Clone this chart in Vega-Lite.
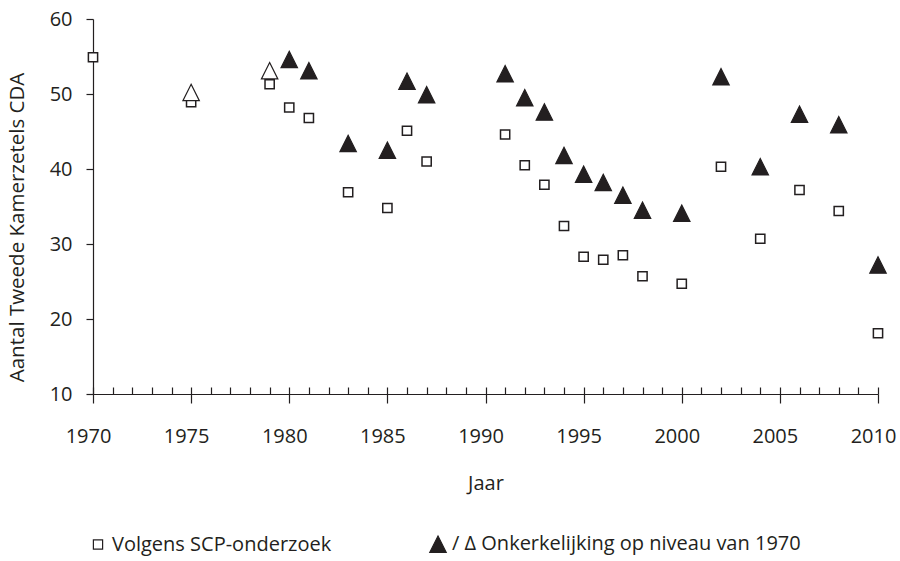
{
  "$schema": "https://vega.github.io/schema/vega-lite/v6.json",
  "width": 785,
  "height": 375,
  "autosize": {"type": "none"},
  "padding": {"left": 93, "top": 19, "right": 22, "bottom": 167},
  "background": "white",
  "config": {
    "font": "Open Sans",
    "view": {"stroke": null},
    "axis": {
      "domainColor": "#231f20",
      "tickColor": "#231f20",
      "labelColor": "#231f20",
      "titleColor": "#231f20",
      "domainWidth": 1.2,
      "tickWidth": 1.2,
      "grid": false,
      "labelFontSize": 20,
      "titleFontSize": 20,
      "titleFontWeight": "normal"
    },
    "legend": {
      "labelFontSize": 20,
      "labelColor": "#231f20",
      "labelLimit": 500,
      "symbolStrokeWidth": 1.2
    }
  },
  "data": {
    "values": [
      {"jaar": 1970, "zetels": 54.9, "reeks": "Volgens SCP-onderzoek", "type": "gemeten"},
      {"jaar": 1975, "zetels": 48.9, "reeks": "Volgens SCP-onderzoek", "type": "gemeten"},
      {"jaar": 1979, "zetels": 51.3, "reeks": "Volgens SCP-onderzoek", "type": "gemeten"},
      {"jaar": 1980, "zetels": 48.2, "reeks": "Volgens SCP-onderzoek", "type": "gemeten"},
      {"jaar": 1981, "zetels": 46.8, "reeks": "Volgens SCP-onderzoek", "type": "gemeten"},
      {"jaar": 1983, "zetels": 36.9, "reeks": "Volgens SCP-onderzoek", "type": "gemeten"},
      {"jaar": 1985, "zetels": 34.8, "reeks": "Volgens SCP-onderzoek", "type": "gemeten"},
      {"jaar": 1986, "zetels": 45.1, "reeks": "Volgens SCP-onderzoek", "type": "gemeten"},
      {"jaar": 1987, "zetels": 41.0, "reeks": "Volgens SCP-onderzoek", "type": "gemeten"},
      {"jaar": 1991, "zetels": 44.6, "reeks": "Volgens SCP-onderzoek", "type": "gemeten"},
      {"jaar": 1992, "zetels": 40.5, "reeks": "Volgens SCP-onderzoek", "type": "gemeten"},
      {"jaar": 1993, "zetels": 37.9, "reeks": "Volgens SCP-onderzoek", "type": "gemeten"},
      {"jaar": 1994, "zetels": 32.4, "reeks": "Volgens SCP-onderzoek", "type": "gemeten"},
      {"jaar": 1995, "zetels": 28.3, "reeks": "Volgens SCP-onderzoek", "type": "gemeten"},
      {"jaar": 1996, "zetels": 27.9, "reeks": "Volgens SCP-onderzoek", "type": "gemeten"},
      {"jaar": 1997, "zetels": 28.5, "reeks": "Volgens SCP-onderzoek", "type": "gemeten"},
      {"jaar": 1998, "zetels": 25.7, "reeks": "Volgens SCP-onderzoek", "type": "gemeten"},
      {"jaar": 2000, "zetels": 24.7, "reeks": "Volgens SCP-onderzoek", "type": "gemeten"},
      {"jaar": 2002, "zetels": 40.3, "reeks": "Volgens SCP-onderzoek", "type": "gemeten"},
      {"jaar": 2004, "zetels": 30.7, "reeks": "Volgens SCP-onderzoek", "type": "gemeten"},
      {"jaar": 2006, "zetels": 37.2, "reeks": "Volgens SCP-onderzoek", "type": "gemeten"},
      {"jaar": 2008, "zetels": 34.4, "reeks": "Volgens SCP-onderzoek", "type": "gemeten"},
      {"jaar": 2010, "zetels": 18.1, "reeks": "Volgens SCP-onderzoek", "type": "gemeten"},
      {"jaar": 1975, "zetels": 50.2, "reeks": "Onkerkelijking op niveau van 1970", "type": "geschat"},
      {"jaar": 1979, "zetels": 53.1, "reeks": "Onkerkelijking op niveau van 1970", "type": "geschat"},
      {"jaar": 1980, "zetels": 54.6, "reeks": "Onkerkelijking op niveau van 1970", "type": "gemeten"},
      {"jaar": 1981, "zetels": 53.1, "reeks": "Onkerkelijking op niveau van 1970", "type": "gemeten"},
      {"jaar": 1983, "zetels": 43.4, "reeks": "Onkerkelijking op niveau van 1970", "type": "gemeten"},
      {"jaar": 1985, "zetels": 42.5, "reeks": "Onkerkelijking op niveau van 1970", "type": "gemeten"},
      {"jaar": 1986, "zetels": 51.7, "reeks": "Onkerkelijking op niveau van 1970", "type": "gemeten"},
      {"jaar": 1987, "zetels": 49.9, "reeks": "Onkerkelijking op niveau van 1970", "type": "gemeten"},
      {"jaar": 1991, "zetels": 52.7, "reeks": "Onkerkelijking op niveau van 1970", "type": "gemeten"},
      {"jaar": 1992, "zetels": 49.5, "reeks": "Onkerkelijking op niveau van 1970", "type": "gemeten"},
      {"jaar": 1993, "zetels": 47.6, "reeks": "Onkerkelijking op niveau van 1970", "type": "gemeten"},
      {"jaar": 1994, "zetels": 41.8, "reeks": "Onkerkelijking op niveau van 1970", "type": "gemeten"},
      {"jaar": 1995, "zetels": 39.3, "reeks": "Onkerkelijking op niveau van 1970", "type": "gemeten"},
      {"jaar": 1996, "zetels": 38.2, "reeks": "Onkerkelijking op niveau van 1970", "type": "gemeten"},
      {"jaar": 1997, "zetels": 36.5, "reeks": "Onkerkelijking op niveau van 1970", "type": "gemeten"},
      {"jaar": 1998, "zetels": 34.5, "reeks": "Onkerkelijking op niveau van 1970", "type": "gemeten"},
      {"jaar": 2000, "zetels": 34.1, "reeks": "Onkerkelijking op niveau van 1970", "type": "gemeten"},
      {"jaar": 2002, "zetels": 52.3, "reeks": "Onkerkelijking op niveau van 1970", "type": "gemeten"},
      {"jaar": 2004, "zetels": 40.3, "reeks": "Onkerkelijking op niveau van 1970", "type": "gemeten"},
      {"jaar": 2006, "zetels": 47.3, "reeks": "Onkerkelijking op niveau van 1970", "type": "gemeten"},
      {"jaar": 2008, "zetels": 45.9, "reeks": "Onkerkelijking op niveau van 1970", "type": "gemeten"},
      {"jaar": 2010, "zetels": 27.2, "reeks": "Onkerkelijking op niveau van 1970", "type": "gemeten"}
    ]
  },
  "resolve": {"axis": {"x": "independent"}},
  "encoding": {
    "y": {
      "field": "zetels",
      "type": "quantitative",
      "scale": {"domain": [10, 60], "nice": false, "zero": false},
      "axis": {
        "values": [10, 20, 30, 40, 50, 60],
        "tickSize": 7,
        "labelPadding": 14,
        "title": "Aantal Tweede Kamerzetels CDA",
        "titleFontSize": 20.5,
        "titlePadding": 22,
        "titleY": 208
      }
    },
    "shape": {
      "field": "reeks",
      "type": "nominal",
      "scale": {"domain": ["Volgens SCP-onderzoek", "Onkerkelijking op niveau van 1970"], "range": ["square", "M0,-1L1,1L-1,1Z"]},
      "legend": {"orient": "none", "direction": "horizontal", "legendX": -5, "legendY": 515, "title": null, "padding": 0, "columnPadding": 95, "labelExpr": "datum.value === 'Volgens SCP-onderzoek' ? datum.label : '/ Δ ' + datum.label"}
    },
    "fill": {
      "field": "reeks",
      "type": "nominal",
      "scale": {"domain": ["Volgens SCP-onderzoek", "Onkerkelijking op niveau van 1970"], "range": ["white", "#231f20"]},
      "legend": {"orient": "none", "direction": "horizontal", "legendX": -5, "legendY": 515, "title": null, "padding": 0, "columnPadding": 95, "labelExpr": "datum.value === 'Volgens SCP-onderzoek' ? datum.label : '/ Δ ' + datum.label"},
      "condition": {"test": "datum.type === 'geschat'", "value": "white"}
    },
    "stroke": {
      "field": "reeks",
      "type": "nominal",
      "scale": {"domain": ["Volgens SCP-onderzoek", "Onkerkelijking op niveau van 1970"], "range": ["#231f20", "#231f20"]},
      "legend": {"orient": "none", "direction": "horizontal", "legendX": -5, "legendY": 515, "title": null, "padding": 0, "columnPadding": 95, "labelExpr": "datum.value === 'Volgens SCP-onderzoek' ? datum.label : '/ Δ ' + datum.label"}
    },
    "size": {
      "field": "reeks",
      "type": "nominal",
      "scale": {"domain": ["Volgens SCP-onderzoek", "Onkerkelijking op niveau van 1970"], "range": [85, 270]},
      "legend": {"orient": "none", "direction": "horizontal", "legendX": -5, "legendY": 515, "title": null, "padding": 0, "columnPadding": 95, "labelExpr": "datum.value === 'Volgens SCP-onderzoek' ? datum.label : '/ Δ ' + datum.label"}
    }
  },
  "layer": [
    {
      "transform": [{"filter": "datum.reeks === 'Volgens SCP-onderzoek'"}],
      "mark": {"type": "point", "filled": true, "strokeWidth": 1.5, "opacity": 1},
      "encoding": {
        "x": {
          "field": "jaar",
          "type": "quantitative",
          "scale": {"domain": [1970, 2010], "nice": false, "zero": false},
          "axis": {
            "orient": "bottom",
            "values": [1970, 1975, 1980, 1985, 1990, 1995, 2000, 2005, 2010],
            "format": "d",
            "labelOverlap": false,
            "labelFlush": false,
            "labelOffset": -5,
            "tickSize": 9,
            "labelPadding": 23,
            "title": "Jaar",
            "titlePadding": 27
          }
        }
      }
    },
    {
      "transform": [{"filter": "datum.reeks !== 'Volgens SCP-onderzoek'"}],
      "mark": {"type": "point", "filled": true, "strokeWidth": 1.2, "opacity": 1},
      "encoding": {
        "x": {
          "field": "jaar",
          "type": "quantitative",
          "axis": {
            "orient": "top",
            "offset": -375,
            "values": [1970,1971,1972,1973,1974,1975,1976,1977,1978,1979,1980,1981,1982,1983,1984,1985,1986,1987,1988,1989,1990,1991,1992,1993,1994,1995,1996,1997,1998,1999,2000,2001,2002,2003,2004,2005,2006,2007,2008,2009,2010],
            "tickSize": 7,
            "labels": false,
            "domain": false,
            "title": null
          }
        }
      }
    }
  ]
}
